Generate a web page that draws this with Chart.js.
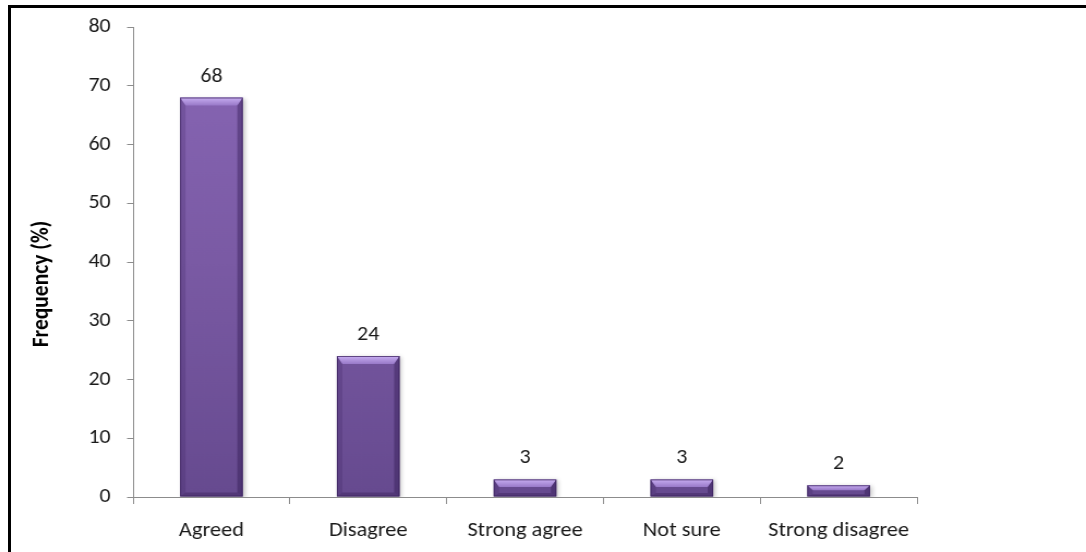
<!DOCTYPE html>
<html>
<head>
<meta charset="utf-8">
<script src="https://cdn.jsdelivr.net/npm/chart.js@4.4.1/dist/chart.umd.min.js"></script>
<style>
  html, body { margin: 0; padding: 0; background: #fff; }
  #wrap { position: relative; width: 1086px; height: 552px; overflow: hidden; }
  #frame { position: absolute; left: 8px; top: 5px; width: 1100px; height: 600px;
           border-left: 3px solid #000; border-top: 3px solid #000; box-sizing: border-box; }
  canvas { position: absolute; left: 0; top: 0; }
</style>
</head>
<body>
<div id="wrap">
  <div id="frame"></div>
  <!-- drawn on a slightly narrower surface and widened to the page -->
  <canvas id="c" width="996" height="552" style="width:1086px;height:552px"></canvas>
</div>
<script>
const categories = ['Agreed', 'Disagree', 'Strong agree', 'Not sure', 'Strong disagree'];
const frequency = [68, 24, 3, 3, 2];
const yTicks = [0, 10, 20, 30, 40, 50, 60, 70, 80];
const yTitle = 'Frequency (%)';

const FONT = 'Carlito, Calibri, Lato, sans-serif';

// Vertical body shading for the bars, built on the chart area
function barFill(context) {
  const chart = context.chart;
  const area = chart.chartArea;
  if (!area) return '#7a5aa4';
  const g = chart.ctx.createLinearGradient(0, area.top, 0, area.bottom);
  g.addColorStop(0, '#8967b6');
  g.addColorStop(0.5, '#7a5aa4');
  g.addColorStop(1, '#664a8f');
  return g;
}

// Soft shadow behind the bars
const barShadow = {
  id: 'barShadow',
  beforeDatasetsDraw(chart) {
    const ctx = chart.ctx;
    ctx.save();
    ctx.shadowColor = 'rgba(0,0,0,0.22)';
    ctx.shadowBlur = 4;
    ctx.shadowOffsetX = 2;
    ctx.shadowOffsetY = 1;
  },
  afterDatasetsDraw(chart) {
    chart.ctx.restore();
  }
};

// Bevel highlight and edge shading on each bar
const bevelPlugin = {
  id: 'bevel',
  afterDatasetsDraw(chart) {
    const ctx = chart.ctx;
    chart.getDatasetMeta(0).data.forEach(bar => {
      const p = bar.getProps(['x', 'y', 'base', 'width'], true);
      const l = p.x - p.width / 2, r = p.x + p.width / 2, t = p.y, b = p.base;
      const h = b - t;
      const bv = Math.min(8, h * 0.45);
      const bb = Math.min(4, h * 0.2);
      const sv = 5;
      ctx.save();
      // top face
      const tg = ctx.createLinearGradient(0, t, 0, t + bv);
      tg.addColorStop(0, '#c8aef2');
      tg.addColorStop(1, '#9879c8');
      ctx.fillStyle = tg;
      ctx.beginPath();
      ctx.moveTo(l, t); ctx.lineTo(r, t); ctx.lineTo(r - sv, t + bv); ctx.lineTo(l + sv, t + bv);
      ctx.closePath(); ctx.fill();
      // left edge
      ctx.fillStyle = 'rgba(50,25,85,0.2)';
      ctx.beginPath();
      ctx.moveTo(l, t); ctx.lineTo(l + sv, t + bv); ctx.lineTo(l + sv, b - bb); ctx.lineTo(l, b);
      ctx.closePath(); ctx.fill();
      // right edge
      ctx.fillStyle = 'rgba(40,18,70,0.36)';
      ctx.beginPath();
      ctx.moveTo(r, t); ctx.lineTo(r - sv, t + bv); ctx.lineTo(r - sv, b - bb); ctx.lineTo(r, b);
      ctx.closePath(); ctx.fill();
      // bottom edge
      ctx.fillStyle = 'rgba(40,18,70,0.3)';
      ctx.beginPath();
      ctx.moveTo(l, b); ctx.lineTo(l + sv, b - bb); ctx.lineTo(r - sv, b - bb); ctx.lineTo(r, b);
      ctx.closePath(); ctx.fill();
      // outline
      ctx.strokeStyle = 'rgba(60,35,95,0.75)';
      ctx.lineWidth = 1;
      ctx.strokeRect(l + 0.5, t + 0.5, p.width - 1, h - 1);
      ctx.restore();
    });
  }
};

// Value labels above the bars
const valueLabels = {
  id: 'valueLabels',
  afterDatasetsDraw(chart) {
    const ctx = chart.ctx;
    const ds = chart.data.datasets[0];
    ctx.save();
    ctx.font = '20px ' + FONT;
    ctx.fillStyle = '#1a1a1a';
    ctx.textAlign = 'center';
    ctx.textBaseline = 'middle';
    chart.getDatasetMeta(0).data.forEach((bar, i) => {
      ctx.fillText(String(ds.data[i]), bar.x, bar.y - 21);
    });
    ctx.restore();
  }
};

// Rotated y-axis title, centred a little below the plot's middle
const axisTitle = {
  id: 'axisTitle',
  afterDraw(chart) {
    const ctx = chart.ctx;
    const a = chart.chartArea;
    ctx.save();
    ctx.translate(38.5, (a.top + a.bottom) / 2 + 22);
    ctx.rotate(-Math.PI / 2);
    ctx.font = 'bold 21.5px ' + FONT;
    ctx.fillStyle = '#000';
    ctx.textAlign = 'center';
    ctx.textBaseline = 'middle';
    ctx.fillText(yTitle, 0, 0);
    ctx.restore();
  }
};

new Chart(document.getElementById('c'), {
  type: 'bar',
  data: {
    labels: categories,
    datasets: [{
      data: frequency,
      backgroundColor: barFill,
      borderWidth: 0,
      categoryPercentage: 1.0,
      barPercentage: 0.4
    }]
  },
  options: {
    responsive: false,
    animation: false,
    devicePixelRatio: 1,
    layout: { padding: { left: 9, right: 155, top: 26, bottom: 0 } },
    plugins: { legend: { display: false }, tooltip: { enabled: false } },
    scales: {
      x: {
        grid: { display: true, drawOnChartArea: false, offset: true, tickLength: 7, color: '#8c8c8c' },
        border: { color: '#8c8c8c', width: 1 },
        ticks: { font: { size: 20.5, family: FONT }, color: '#1a1a1a', padding: 15, maxRotation: 0 },
        afterFit(s) { s.height = 55; }
      },
      y: {
        min: 0, max: 80,
        afterBuildTicks(s) { s.ticks = yTicks.map(v => ({ value: v })); },
        grid: { display: true, drawOnChartArea: false, tickLength: 5.5, color: '#8c8c8c' },
        border: { color: '#8c8c8c', width: 1 },
        ticks: { font: { size: 20, family: FONT }, color: '#1a1a1a', padding: 15 },
        afterFit(s) { s.width = 113; }
      }
    }
  },
  plugins: [barShadow, bevelPlugin, valueLabels, axisTitle]
});
</script>
</body>
</html>
